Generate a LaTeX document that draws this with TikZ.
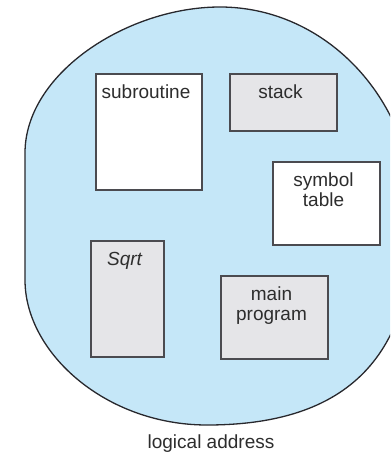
\documentclass[tikz,border=0pt]{standalone}
\usepackage{xcolor}
\usepackage{fontspec}
\setmainfont{Liberation Sans}
\usepackage{tikz}
\usetikzlibrary{positioning}
\definecolor{blobblue}{RGB}{197,231,248}
\definecolor{outline}{RGB}{40,40,45}
\definecolor{boxedge}{RGB}{75,75,80}
\definecolor{boxgray}{RGB}{229,229,232}
\definecolor{txtdark}{RGB}{45,45,45}
\tikzset{
  segment/.style={rectangle, draw=boxedge, line width=1.6pt, inner sep=0pt, outer sep=0pt, anchor=north west},
  seglabel/.style={inner sep=0pt, align=center, font=\fontsize{19}{19.5}\selectfont, text=txtdark, xshift=-3pt},
  caption/.style={inner sep=0pt, font=\fontsize{19}{19.5}\selectfont, text=txtdark}
}

\begin{document}
\begin{tikzpicture}[x=1pt, y=-1pt,
  blob/.style={fill=blobblue, draw=outline, line width=1.3pt},
  whiteseg/.style={segment, fill=white},
  grayseg/.style={segment, fill=boxgray}
]
\useasboundingbox (0,0) rectangle (390,454);
\clip (0,0) rectangle (390,454);
% address space, flat on the left, runs off the page on the right
\draw[blob] (25,280) -- (25,153)
  .. controls (25,73) and (128,7) .. (220,7)
  .. controls (327,7) and (414,101) .. (414,215)
  .. controls (414,346) and (358,425) .. (207,425)
  .. controls (106,425) and (25,353) .. cycle;

% segments
\node[whiteseg, minimum width=106pt, minimum height=116pt] (sub) at (96,74) {};
\node[grayseg, minimum width=107pt, minimum height=57pt] (stack) at (230,74) {};
\node[whiteseg, minimum width=107pt, minimum height=83pt] (symtab) at (273,162) {};
\node[grayseg, minimum width=73pt, minimum height=116pt] (sqrt) at (91,241) {};
\node[grayseg, minimum width=107pt, minimum height=83pt] (mainprog) at (221,276) {};

\node[seglabel, below=11pt of sub.north] (subtxt) {subroutine};
\node[seglabel, below=11pt of stack.north] (stacktxt) {stack};
\node[seglabel, below=11pt of symtab.north] (symtxt) {symbol\\table};
\node[seglabel, below=11pt of sqrt.north] (sqrttxt) {\itshape Sqrt};
\node[seglabel, below=11pt of mainprog.north] (maintxt) {main\\program};

\node[caption, anchor=north] (logaddr) at (211,435) {logical address};
\end{tikzpicture}
\end{document}
